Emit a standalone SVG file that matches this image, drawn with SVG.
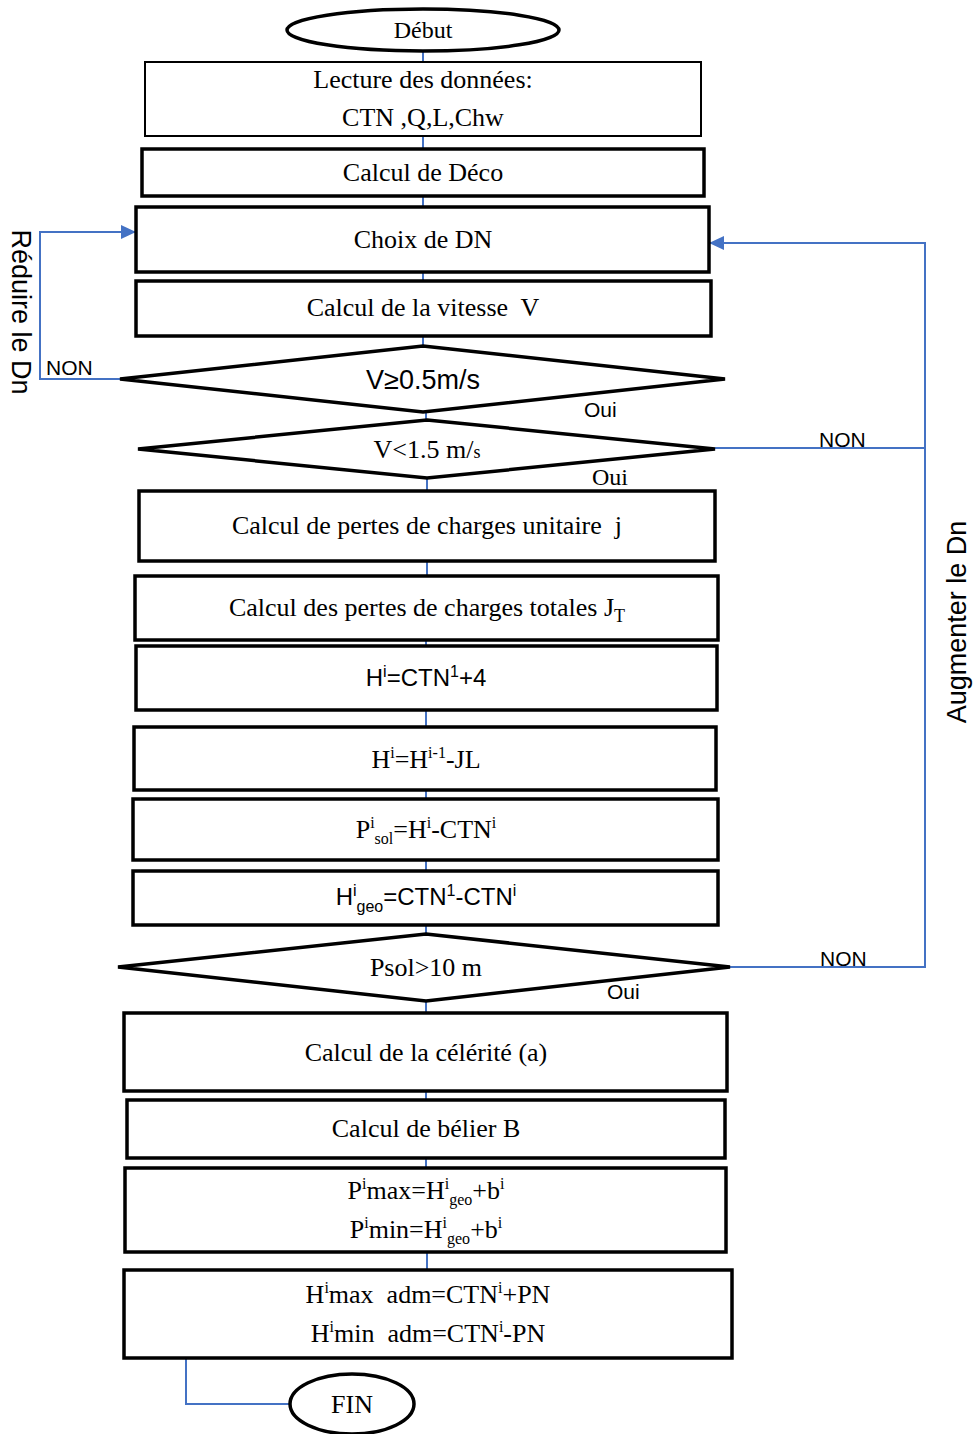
<svg xmlns="http://www.w3.org/2000/svg" width="975" height="1434" viewBox="0 0 975 1434">
<style>
.bx{fill:#fff;stroke:#000;stroke-width:3.5}
.thin{stroke-width:2}
.t{font-family:"Liberation Serif",serif;font-size:26px;fill:#000;text-anchor:middle;white-space:pre}
.s{font-family:"Liberation Sans",sans-serif;font-size:27px;fill:#000;text-anchor:middle}
.lbl{font-family:"Liberation Sans",sans-serif;font-size:21px;fill:#000}
.c{fill:none;stroke:#4472C4;stroke-width:2}
.sup{font-size:16px}
</style>
<defs>
<marker id="ah2" markerWidth="15" markerHeight="14" refX="15" refY="7" orient="auto" markerUnits="userSpaceOnUse" viewBox="0 0 15 14">
<path d="M0,0 L15,7 L0,14 Z" fill="#4472C4"/>
</marker>
</defs>
<g id="connectors">
<path class="c" d="M423,52 V62 M423,136 V149 M423,196 V207 M423,272 V281 M423,336 V346 M426,412 V420 M427,478 V491 M427,561 V576 M426,640 V646 M426,710 V727 M426,790 V799 M426,860 V871 M426,925 V934 M426,1001 V1013 M426,1091 V1100 M426,1158 V1168 M427,1252 V1270"/>
<path class="c" d="M120,379 H40 V232 H136" marker-end="url(#ah2)"/>
<path class="c" d="M715,448 H925 V243 H709" marker-end="url(#ah2)"/>
<path class="c" d="M730,967 H925 V448"/>
<path class="c" d="M186,1358 V1404 H290"/>
</g>
<g id="debut"><ellipse cx="423" cy="30" rx="136" ry="21" fill="#fff" stroke="#000" stroke-width="3.5"/><text class="t" x="423" y="38" style="font-size:24px">Début</text></g>
<g id="lecture"><rect class="bx thin" x="145" y="62" width="556" height="74"/><text class="t" x="423" y="88">Lecture des données:</text><text class="t" x="423" y="126">CTN ,Q,L,Chw</text></g>
<g id="deco"><rect class="bx" x="142" y="149" width="562" height="47"/><text class="t" x="423" y="181">Calcul de Déco</text></g>
<g id="choix"><rect class="bx" x="136" y="207" width="573" height="65"/><text class="t" x="423" y="248">Choix de DN</text></g>
<g id="vitesse"><rect class="bx" x="136" y="281" width="575" height="55"/><text class="t" x="423" y="316">Calcul de la vitesse  V</text></g>
<g id="d1"><polygon class="bx" points="423,346 725,379 423,412 120,379"/><text class="s" x="423" y="389" style="font-size:27px">V≥0.5m/s</text></g>
<text class="lbl" x="584" y="417">Oui</text>
<text class="lbl" x="46" y="375">NON</text>
<g id="d2"><polygon class="bx" points="427,420 715,449 427,478 138,449"/><text class="t" x="427" y="458">V&lt;1.5 m/<tspan font-size="18">s</tspan></text></g>
<text class="t" x="610" y="485" style="font-size:24px">Oui</text>
<text class="lbl" x="819" y="447">NON</text>
<g id="pj"><rect class="bx" x="139" y="491" width="576" height="70"/><text class="t" x="427" y="534">Calcul de pertes de charges unitaire  j</text></g>
<g id="pJT"><rect class="bx" x="135" y="576" width="583" height="64"/><text class="t" x="427" y="616">Calcul des pertes de charges totales J<tspan dy="6" font-size="18">T</tspan></text></g>
<g id="h1"><rect class="bx" x="136" y="646" width="581" height="64"/><text class="s" x="426" y="686" style="font-size:24px">H<tspan class="sup" dy="-9">i</tspan><tspan dy="9">=CTN</tspan><tspan class="sup" dy="-9">1</tspan><tspan dy="9">+4</tspan></text></g>
<g id="h2"><rect class="bx" x="134" y="727" width="582" height="63"/><text class="t" x="426" y="768">H<tspan class="sup" dy="-10">i</tspan><tspan dy="10">=H</tspan><tspan class="sup" dy="-10">i-1</tspan><tspan dy="10">-JL</tspan></text></g>
<g id="psol"><rect class="bx" x="133" y="799" width="585" height="61"/><text class="t" x="426" y="838">P<tspan class="sup" dy="-10">i</tspan><tspan class="sup" dy="16">sol</tspan><tspan dy="-6">=H</tspan><tspan class="sup" dy="-10">i</tspan><tspan dy="10">-CTN</tspan><tspan class="sup" dy="-10">i</tspan></text></g>
<g id="hgeo"><rect class="bx" x="133" y="871" width="585" height="54"/><text class="s" x="426" y="905" style="font-size:24px">H<tspan class="sup" dy="-9">i</tspan><tspan class="sup" dy="16">geo</tspan><tspan dy="-7">=CTN</tspan><tspan class="sup" dy="-9">1</tspan><tspan dy="9">-CTN</tspan><tspan class="sup" dy="-9">i</tspan></text></g>
<g id="d3"><polygon class="bx" points="426,934 730,967 426,1001 118,967"/><text class="t" x="426" y="976">Psol&gt;10 m</text></g>
<text class="lbl" x="607" y="999">Oui</text>
<text class="lbl" x="820" y="966">NON</text>
<g id="celerite"><rect class="bx" x="124" y="1013" width="603" height="78"/><text class="t" x="426" y="1061">Calcul de la célérité (a)</text></g>
<g id="belier"><rect class="bx" x="127" y="1100" width="598" height="58"/><text class="t" x="426" y="1137">Calcul de bélier B</text></g>
<g id="pmax"><rect class="bx" x="125" y="1168" width="601" height="84"/><text class="t" x="426" y="1199">P<tspan class="sup" dy="-10">i</tspan><tspan dy="10">max=H</tspan><tspan class="sup" dy="-10">i</tspan><tspan class="sup" dy="16">geo</tspan><tspan dy="-6">+b</tspan><tspan class="sup" dy="-10">i</tspan></text><text class="t" x="426" y="1238">P<tspan class="sup" dy="-10">i</tspan><tspan dy="10">min=H</tspan><tspan class="sup" dy="-10">i</tspan><tspan class="sup" dy="16">geo</tspan><tspan dy="-6">+b</tspan><tspan class="sup" dy="-10">i</tspan></text></g>
<g id="hadm"><rect class="bx" x="124" y="1270" width="608" height="88"/><text class="t" x="428" y="1303">H<tspan class="sup" dy="-10">i</tspan><tspan dy="10">max  adm=CTN</tspan><tspan class="sup" dy="-10">i</tspan><tspan dy="10">+PN</tspan></text><text class="t" x="428" y="1342">H<tspan class="sup" dy="-10">i</tspan><tspan dy="10">min  adm=CTN</tspan><tspan class="sup" dy="-10">i</tspan><tspan dy="10">-PN</tspan></text></g>
<g id="fin"><ellipse cx="352" cy="1404" rx="62" ry="30" fill="#fff" stroke="#000" stroke-width="3.5"/><text class="t" x="352" y="1413">FIN</text></g>
<text class="s" transform="translate(12,312) rotate(90)" style="font-size:27px">Réduire le Dn</text>
<text class="s" transform="translate(966,622) rotate(-90)" style="font-size:27px">Augmenter le Dn</text>
</svg>
